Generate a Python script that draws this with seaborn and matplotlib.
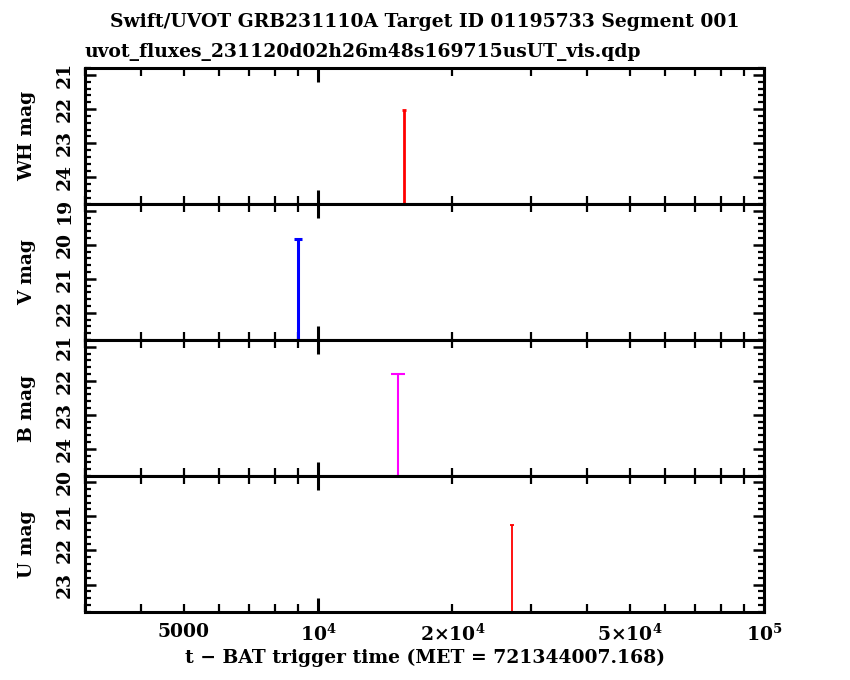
import numpy as np
import pandas as pd
import matplotlib
matplotlib.use("Agg")
import matplotlib.pyplot as plt
import matplotlib.ticker as mticker
import seaborn as sns

# filters, top to bottom
filters = ["WH", "V", "B", "U"]
colors = ["#ff0000", "#0000ff", "#ff00ff", "#ff0000"]
# time since trigger (s) and magnitude at top of each bar (upper limits)
t_mid = [15600, 9020, 15100, 27200]
mag = [22.02, 19.84, 21.80, 21.26]
ylims = [(24.78, 20.80), (22.80, 18.80), (24.80, 20.80), (23.80, 19.82)]
yticks = [[21, 22, 23, 24], [19, 20, 21, 22], [21, 22, 23, 24], [20, 21, 22, 23]]

df = pd.DataFrame({"filter": filters, "t": t_mid, "mag": mag})

sns.set_style("ticks")
plt.rcParams["font.family"] = ["DejaVu Serif"]
plt.rcParams["font.weight"] = "bold"
plt.rcParams["mathtext.fontset"] = "dejavuserif"
plt.rcParams["mathtext.default"] = "bf"
plt.rcParams["text.color"] = "black"
plt.rcParams["axes.labelcolor"] = "black"
plt.rcParams["xtick.color"] = "black"
plt.rcParams["ytick.color"] = "black"

FS = 13.5

fig, axes = plt.subplots(4, 1, figsize=(8.5, 6.8), dpi=100, sharex=True)
fig.subplots_adjust(left=0.1, right=0.899, bottom=0.1, top=0.9, hspace=0)

lws = [2.0, 2.2, 1.5, 1.3]
caps = [1.2, 3.0, 4.7, 1.5]

for i, ax in enumerate(axes):
    row = df.iloc[i]
    ax.errorbar([row["t"]], [row["mag"]], yerr=[[0], [6]], fmt="none",
                ecolor=colors[i], elinewidth=lws[i], capsize=caps[i],
                capthick=lws[i])
    ax.set_xscale("log")
    ax.set_xlim(3000, 1e5)
    ax.set_ylim(*ylims[i])
    ax.set_yticks(yticks[i])
    ax.yaxis.set_minor_locator(mticker.MultipleLocator(0.2))
    ax.set_ylabel(filters[i] + " mag", fontsize=FS, fontweight="bold")
    ax.yaxis.set_label_coords(-0.072, 0.5)
    for lab in ax.get_yticklabels():
        lab.set_rotation(90)
        lab.set_va("center")
    ax.tick_params(axis="both", which="both", direction="in", top=True,
                   right=True, color="black", labelsize=FS)
    ax.tick_params(axis="x", which="major", length=10, width=2.2, pad=8)
    ax.tick_params(axis="x", which="minor", length=6, width=1.6)
    ax.tick_params(axis="y", which="major", length=8, width=1.8, pad=8)
    ax.tick_params(axis="y", which="minor", length=4, width=1.6)
    for s in ax.spines.values():
        s.set_linewidth(2.2)
        s.set_color("black")

minor_labels = {5000: "5000", 20000: r"$2{\times}10^4$", 50000: r"$5{\times}10^4$"}
ax = axes[-1]
ax.xaxis.set_major_locator(mticker.FixedLocator([1e4, 1e5]))
ax.xaxis.set_major_formatter(mticker.FixedFormatter([r"$10^4$", r"$10^5$"]))
ax.xaxis.set_minor_locator(mticker.LogLocator(base=10, subs=np.arange(2, 10)))
ax.xaxis.set_minor_formatter(mticker.FuncFormatter(
    lambda v, p: minor_labels.get(int(round(v)), "")))
ax.tick_params(axis="x", which="minor", labelsize=FS, pad=8)
ax.set_xlabel("t − BAT trigger time (MET = 721344007.168)", fontsize=FS,
              fontweight="bold", labelpad=3)

fig.text(0.5, 0.967, "Swift/UVOT GRB231110A Target ID 01195733 Segment 001",
         ha="center", va="center", fontsize=FS, fontweight="bold")
fig.text(0.1, 0.923, "uvot_fluxes_231120d02h26m48s169715usUT_vis.qdp",
         ha="left", va="center", fontsize=FS, fontweight="bold")

fig.savefig("out.png", dpi=100)
